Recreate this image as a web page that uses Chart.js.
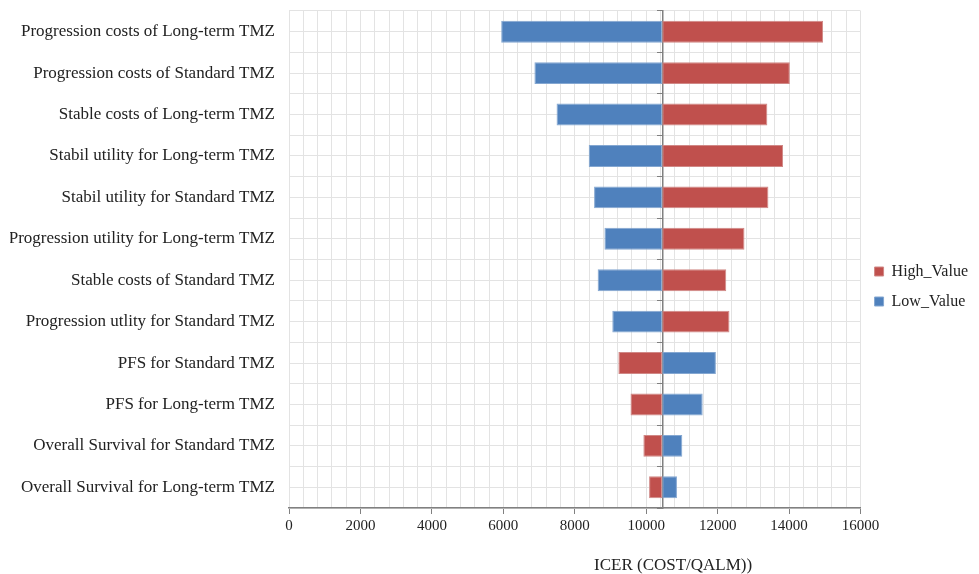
<!DOCTYPE html>
<html>
<head>
<meta charset="utf-8">
<script src="https://cdn.jsdelivr.net/npm/chart.js@4"></script>
<style>
  html, body { margin: 0; padding: 0; background: #fff; }
  #wrap { width: 979px; height: 574px; }
</style>
</head>
<body>
<div id="wrap"><canvas id="tornado" width="979" height="574"></canvas></div>
<script>
// tornado data
const labels = [
  'Progression costs of Long-term TMZ',
  'Progression costs of Standard TMZ',
  'Stable costs of Long-term TMZ',
  'Stabil utility for Long-term TMZ',
  'Stabil utility for Standard TMZ',
  'Progression utility for Long-term TMZ',
  'Stable costs of Standard TMZ',
  'Progression utlity for Standard TMZ',
  'PFS for Standard TMZ',
  'PFS for Long-term TMZ',
  'Overall Survival for Standard TMZ',
  'Overall Survival for Long-term TMZ'
];
const baseICER = 10450;
const highValue = [14950, 14020, 13390, 13830, 13420, 12750, 12240, 12330, 9220, 9560, 9920, 10080];
const lowValue  = [5940, 6870, 7490, 8390, 8540, 8830, 8640, 9050, 11950, 11580, 11010, 10860];
const xTicksMax = 16000;
const xAxisTitle = 'ICER (COST/QALM))';

const font = "'Liberation Serif', 'DejaVu Serif', serif";

// bottom title sits off-centre in the original, so draw it by hand
const titlePlugin = {
  id: 'xTitle',
  afterDraw(chart) {
    const c = chart.ctx, a = chart.chartArea;
    c.save();
    c.font = '17px ' + font;
    c.fillStyle = '#222';
    c.textAlign = 'center';
    c.textBaseline = 'middle';
    c.fillText(xAxisTitle, a.left + (a.right - a.left) * 0.672, a.bottom + 58);
    c.restore();
  }
};

const ctx = document.getElementById('tornado').getContext('2d');
new Chart(ctx, {
  type: 'bar',
  data: {
    labels: labels,
    datasets: [
      { label: 'High_Value', data: highValue.map(v => [baseICER, v]),
        backgroundColor: '#C0504D', borderColor: '#D08886', borderWidth: 1,
        borderSkipped: false, grouped: false, barPercentage: 0.53, categoryPercentage: 1 },
      { label: 'Low_Value', data: lowValue.map(v => [baseICER, v]),
        backgroundColor: '#4F81BD', borderColor: '#84A7D1', borderWidth: 1,
        borderSkipped: false, grouped: false, barPercentage: 0.53, categoryPercentage: 1 }
    ]
  },
  options: {
    indexAxis: 'y',
    responsive: false,
    animation: false,
    layout: { padding: { left: 10, right: 1, top: 11, bottom: 36 } },
    plugins: {
      tooltip: { enabled: false },
      legend: {
        position: 'right',
        // empty title only pushes the entries down a little
        title: { display: true, text: ' ', font: { size: 10 }, padding: 6 },
        labels: { font: { family: font, size: 16 }, color: '#222', boxWidth: 9, boxHeight: 9, padding: 14 }
      }
    },
    scales: {
      x: {
        min: 0, max: xTicksMax,
        ticks: {
          stepSize: 400, autoSkip: false, maxRotation: 0,
          font: { family: font, size: 15 }, color: '#222', padding: 3,
          callback: v => (v % 2000 === 0 ? String(v) : '')
        },
        grid: {
          color: '#e3e3e3',
          tickColor: c => (c.tick && c.tick.value % 2000 === 0 ? '#808080' : 'rgba(0,0,0,0)'),
          tickLength: 6
        },
        border: { color: '#808080', width: 1.5 }
      },
      y: {
        offset: true,
        afterFit: s => { s.width = 279; s.paddingTop = 0; s.paddingBottom = 0; },
        ticks: { font: { family: font, size: 17 }, color: '#222', padding: 14 },
        grid: { offset: false, color: '#e3e3e3', drawTicks: false },
        border: { display: false }
      },
      yMid: {
        type: 'category',
        axis: 'y',
        position: { x: baseICER },
        offset: true,
        ticks: { display: false },
        grid: { offset: true, color: '#e3e3e3', tickColor: '#808080', tickLength: 5 },
        border: { color: '#808080', width: 1.5 }
      }
    }
  },
  plugins: [titlePlugin]
});
</script>
</body>
</html>
